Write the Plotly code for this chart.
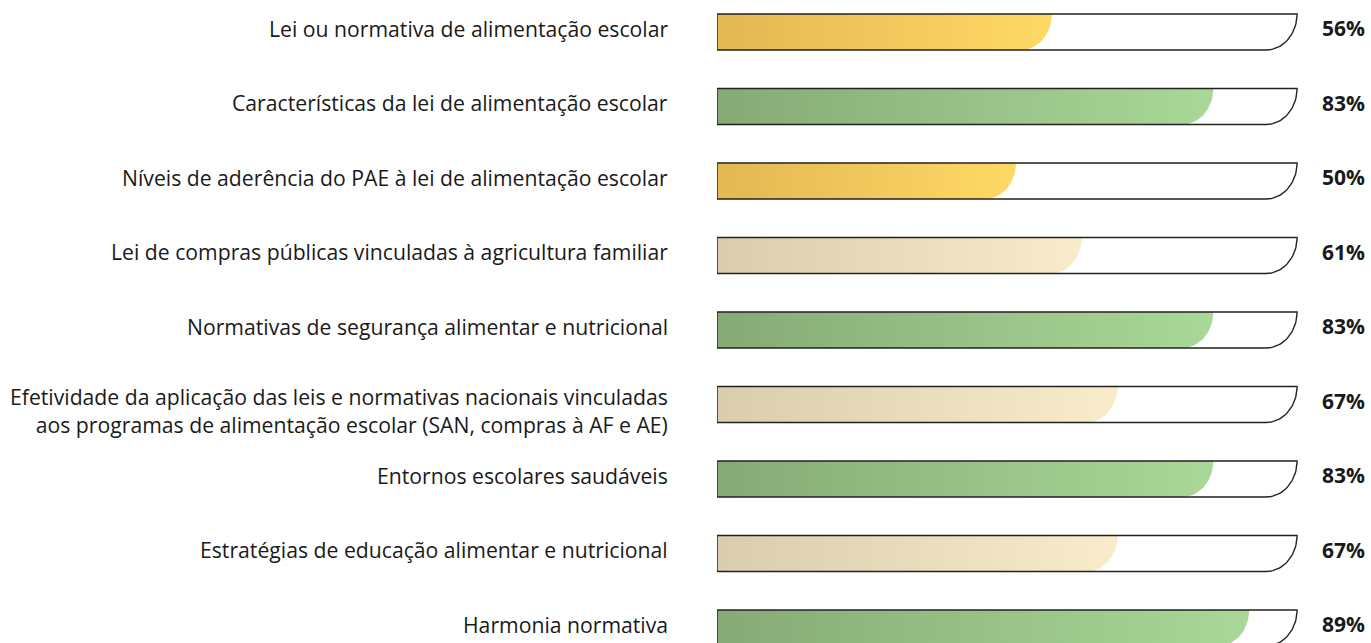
import numpy as np
import plotly.graph_objects as go

categories = [
    "Lei ou normativa de alimentação escolar",
    "Características da lei de alimentação escolar",
    "Níveis de aderência do PAE à lei de alimentação escolar",
    "Lei de compras públicas vinculadas à agricultura familiar",
    "Normativas de segurança alimentar e nutricional",
    "Efetividade da aplicação das leis e normativas nacionais vinculadas<br>aos programas de alimentação escolar (SAN, compras à AF e AE)",
    "Entornos escolares saudáveis",
    "Estratégias de educação alimentar e nutricional",
    "Harmonia normativa",
]
values = [56, 83, 50, 61, 83, 67, 83, 67, 89]
groups = ["yellow", "green", "yellow", "beige", "green", "beige", "green", "beige", "green"]

gradients = {
    "yellow": ["#E3B752", "#FFD966"],
    "green": ["#86AA76", "#A9D898"],
    "beige": ["#DACDAE", "#F8ECCB"],
}

W, H = 1371, 643
ML, MR = 717, 56
PX_PER_UNIT = (W - ML - MR) / 100.0
ROW_PX = 74.5
TOP_PX = 32
Y_MIN = -TOP_PX / ROW_PX
Y_MAX = (H - TOP_PX) / ROW_PX
HALF = 18 / ROW_PX
OUTLINE_END = 97.0
RX = 31 / PX_PER_UNIT

theta = np.linspace(0, np.pi / 2, 30)

def shape_path(xend, row):
    top, bot = row - HALF, row + HALF
    cx = xend - RX
    xs = [0, xend] + list(cx + RX * np.cos(theta)) + [0, 0]
    ys = [top, top] + list(top + 2 * HALF * np.sin(theta)) + [bot, top]
    return xs, ys

fig = go.Figure()
for i, (v, g) in enumerate(zip(values, groups)):
    xs, ys = shape_path(v, i)
    fig.add_trace(go.Scatter(
        x=xs, y=ys, mode="lines", line=dict(width=0), fill="toself",
        fillgradient=dict(type="horizontal",
                          colorscale=[[0, gradients[g][0]], [1, gradients[g][1]]]),
        hoverinfo="skip", showlegend=False))
    ox, oy = shape_path(OUTLINE_END, i)
    fig.add_trace(go.Scatter(
        x=ox, y=oy, mode="lines", line=dict(color="#222222", width=1.4),
        hoverinfo="skip", showlegend=False))

annotations = []
for i, (c, v) in enumerate(zip(categories, values)):
    multi = "<br>" in c
    annotations.append(dict(
        x=0, xref="paper", y=i, yref="y", text=c, showarrow=False,
        xanchor="right", align="right", xshift=-47, yshift=-6 if multi else 4,
        font=dict(family="Open Sans", size=21.2, color="#1a1a1a")))
    annotations.append(dict(
        x=1, xref="paper", y=i, yref="y", text=f"<b>{v}%</b>", showarrow=False,
        xanchor="center", xshift=28, yshift=4,
        font=dict(family="Open Sans", size=21, color="#1a1a1a")))

fig.update_layout(
    width=W, height=H,
    margin=dict(l=ML, r=MR, t=0, b=0),
    paper_bgcolor="white", plot_bgcolor="white",
    xaxis=dict(range=[0, 100], visible=False),
    yaxis=dict(range=[Y_MAX, Y_MIN], visible=False),
    annotations=annotations,
)

fig.write_html("out.html", config={"displayModeBar": False},
               post_script="document.body.style.margin='0px';")
